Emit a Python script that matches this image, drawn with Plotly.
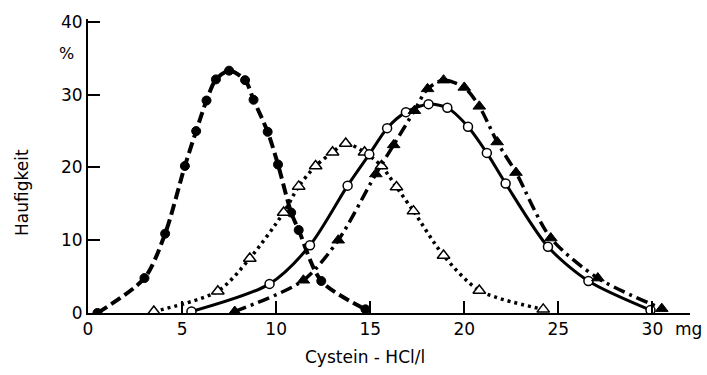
import plotly.graph_objects as go

# Series 1: filled circles, dashed
x_dash = [0.5, 3.0, 4.1, 5.15, 5.75, 6.3, 6.8, 7.5, 8.35, 8.8, 9.55, 10.1, 10.8, 11.2, 12.4, 14.75]
y_dash = [0.0, 4.8, 10.9, 20.2, 25.0, 29.2, 32.1, 33.3, 32.0, 29.3, 24.9, 20.4, 13.8, 11.4, 4.4, 0.5]

# Series 2: open triangles, dotted
x_dot = [3.5, 6.9, 8.6, 10.4, 11.2, 12.1, 13.0, 13.7, 14.7, 15.6, 16.4, 17.3, 18.9, 20.8, 24.2]
y_dot = [0.2, 3.0, 7.5, 13.8, 17.4, 20.2, 22.1, 23.3, 22.1, 20.2, 17.3, 14.0, 7.9, 3.1, 0.5]

# Series 3: open circles, solid
x_solid = [5.5, 9.65, 11.8, 13.8, 14.95, 15.9, 16.9, 18.1, 19.1, 20.2, 21.2, 22.2, 24.45, 26.6, 29.9]
y_solid = [0.2, 4.0, 9.3, 17.5, 21.8, 25.4, 27.6, 28.7, 28.2, 25.6, 22.0, 17.8, 9.1, 4.4, 0.4]

# Series 4: filled triangles, dash-dot
x_dd = [7.8, 11.45, 13.3, 15.3, 16.25, 17.35, 18.05, 18.9, 20.0, 20.8, 21.75, 22.75, 24.6, 27.1, 30.5]
y_dd = [0.2, 4.5, 10.0, 19.1, 23.1, 27.8, 30.8, 32.0, 31.0, 28.4, 23.5, 19.3, 10.3, 4.8, 0.6]

x_ticks = [0, 5, 10, 15, 20, 25, 30]
y_ticks = [0, 10, 20, 30, 40]

FONT = "DejaVu Sans"

fig = go.Figure()
fig.add_trace(go.Scatter(
    x=x_dash, y=y_dash, mode="lines+markers",
    line=dict(color="black", width=4, dash="11px,5px", shape="spline", smoothing=0.8),
    marker=dict(symbol="circle", size=9, color="black", line=dict(color="black", width=1))))
fig.add_trace(go.Scatter(
    x=x_dot, y=y_dot, mode="lines+markers",
    line=dict(color="black", width=3.5, dash="3px,4px", shape="spline", smoothing=0.8),
    marker=dict(symbol="triangle-up", size=11, color="white", line=dict(color="black", width=1.5))))
fig.add_trace(go.Scatter(
    x=x_solid, y=y_solid, mode="lines+markers",
    line=dict(color="black", width=3, shape="spline", smoothing=0.8),
    marker=dict(symbol="circle", size=9, color="white", line=dict(color="black", width=1.5))))
fig.add_trace(go.Scatter(
    x=x_dd, y=y_dd, mode="lines+markers",
    line=dict(color="black", width=3.5, dash="12px,5px,3px,5px", shape="spline", smoothing=0.8),
    marker=dict(symbol="triangle-up", size=11, color="black", line=dict(color="black", width=1))))

fig.update_layout(
    width=707, height=375,
    margin=dict(l=88, r=17, t=12, b=62),
    paper_bgcolor="white", plot_bgcolor="white",
    showlegend=False,
    font=dict(family=FONT, size=16, color="black"),
    xaxis=dict(range=[0, 32], tickvals=x_ticks, ticktext=[str(v) for v in x_ticks],
               showline=True, linecolor="black", linewidth=2, showgrid=False, zeroline=False,
               ticks="inside", ticklen=12, tickwidth=1.5, tickcolor="black",
               tickfont=dict(family=FONT, size=17)),
    yaxis=dict(range=[0, 40.4], tickvals=y_ticks, ticktext=[str(v) for v in y_ticks],
               showline=True, linecolor="black", linewidth=2, showgrid=False, zeroline=False,
               ticks="inside", ticklen=12, tickwidth=1.5, tickcolor="black",
               tickfont=dict(family=FONT, size=17)),
)

fig.add_annotation(text="%", xref="paper", x=0, xanchor="right", xshift=-12,
                   yref="y", y=35.6, showarrow=False, font=dict(family=FONT, size=16))
fig.add_annotation(text="mg", xref="x", x=31.9, xanchor="center",
                   yref="paper", y=0, yanchor="top", yshift=-4, showarrow=False,
                   font=dict(family=FONT, size=17))
fig.add_annotation(text="Haufigkeit", textangle=-90, xref="paper", x=0, xanchor="center",
                   xshift=-66, yref="y", y=16.5, showarrow=False, font=dict(family=FONT, size=17))
fig.add_annotation(text="Cystein - HCl/l", xref="paper", x=0.46, xanchor="center",
                   yref="paper", y=0, yanchor="middle", yshift=-44, showarrow=False,
                   font=dict(family=FONT, size=17))

fig.write_html("out.html")
